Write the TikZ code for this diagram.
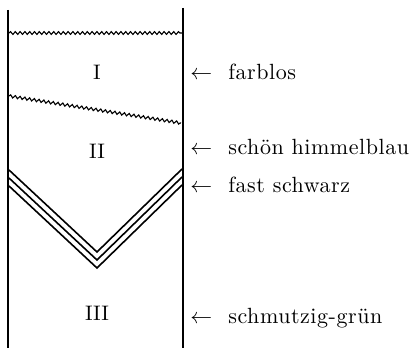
\documentclass[tikz,border=0pt]{standalone}
\usepackage{amsmath}
\usepackage{fontspec}
\usepackage{tikz}
\usetikzlibrary{decorations.pathmorphing}
\newfontfamily\spacedrm{Latin Modern Roman}[LetterSpace=2.5]
\tikzset{
  wall/.style={draw=black, line width=1.3pt},
  wave/.style={draw=black, line width=0.55pt,
    decorate, decoration={snake, segment length=2.4pt, amplitude=0.7pt}},
  vline/.style={draw=black, line width=0.8pt, line join=miter},
  layer/.style={font=\fontsize{10.5}{12}\selectfont, inner sep=0pt},
  lbl/.style={font=\spacedrm\fontsize{11}{13}\selectfont, anchor=west, inner sep=0pt},
  every picture/.append style={line cap=butt}
}
\begin{document}
\begin{tikzpicture}[x=0.5pt,y=-0.5pt]
  \useasboundingbox (0,0) rectangle (414,348);
  % walls of the tube
  \draw[wall] (8,10) -- (8,348);
  \draw[wall] (183,8) -- (183,348);
  % boundaries
  \draw[wave] (9,33) -- (182,33);
  \draw[wave] (9,96) -- (181,123);
  \foreach \d in {0,8,16}
    \draw[vline] (9,170+\d) -- (97,252+\d) -- (182,169+\d);
  % layers
  \node[layer] (l1) at (97,72) {I};
  \node[layer] (l2) at (97,151) {II};
  \node[layer] (l3) at (97,313) {III};
  % colours
  \node[lbl] (c1) at (190,72) {$\leftarrow$\hspace{8pt}farblos};
  \node[lbl] (c2) at (190,147) {$\leftarrow$\hspace{8pt}schön himmelblau};
  \node[lbl] (c3) at (190,185) {$\leftarrow$\hspace{8pt}fast schwarz};
  \node[lbl] (c4) at (190,318) {$\leftarrow$\hspace{8pt}schmutzig-grün};
\end{tikzpicture}
\end{document}
